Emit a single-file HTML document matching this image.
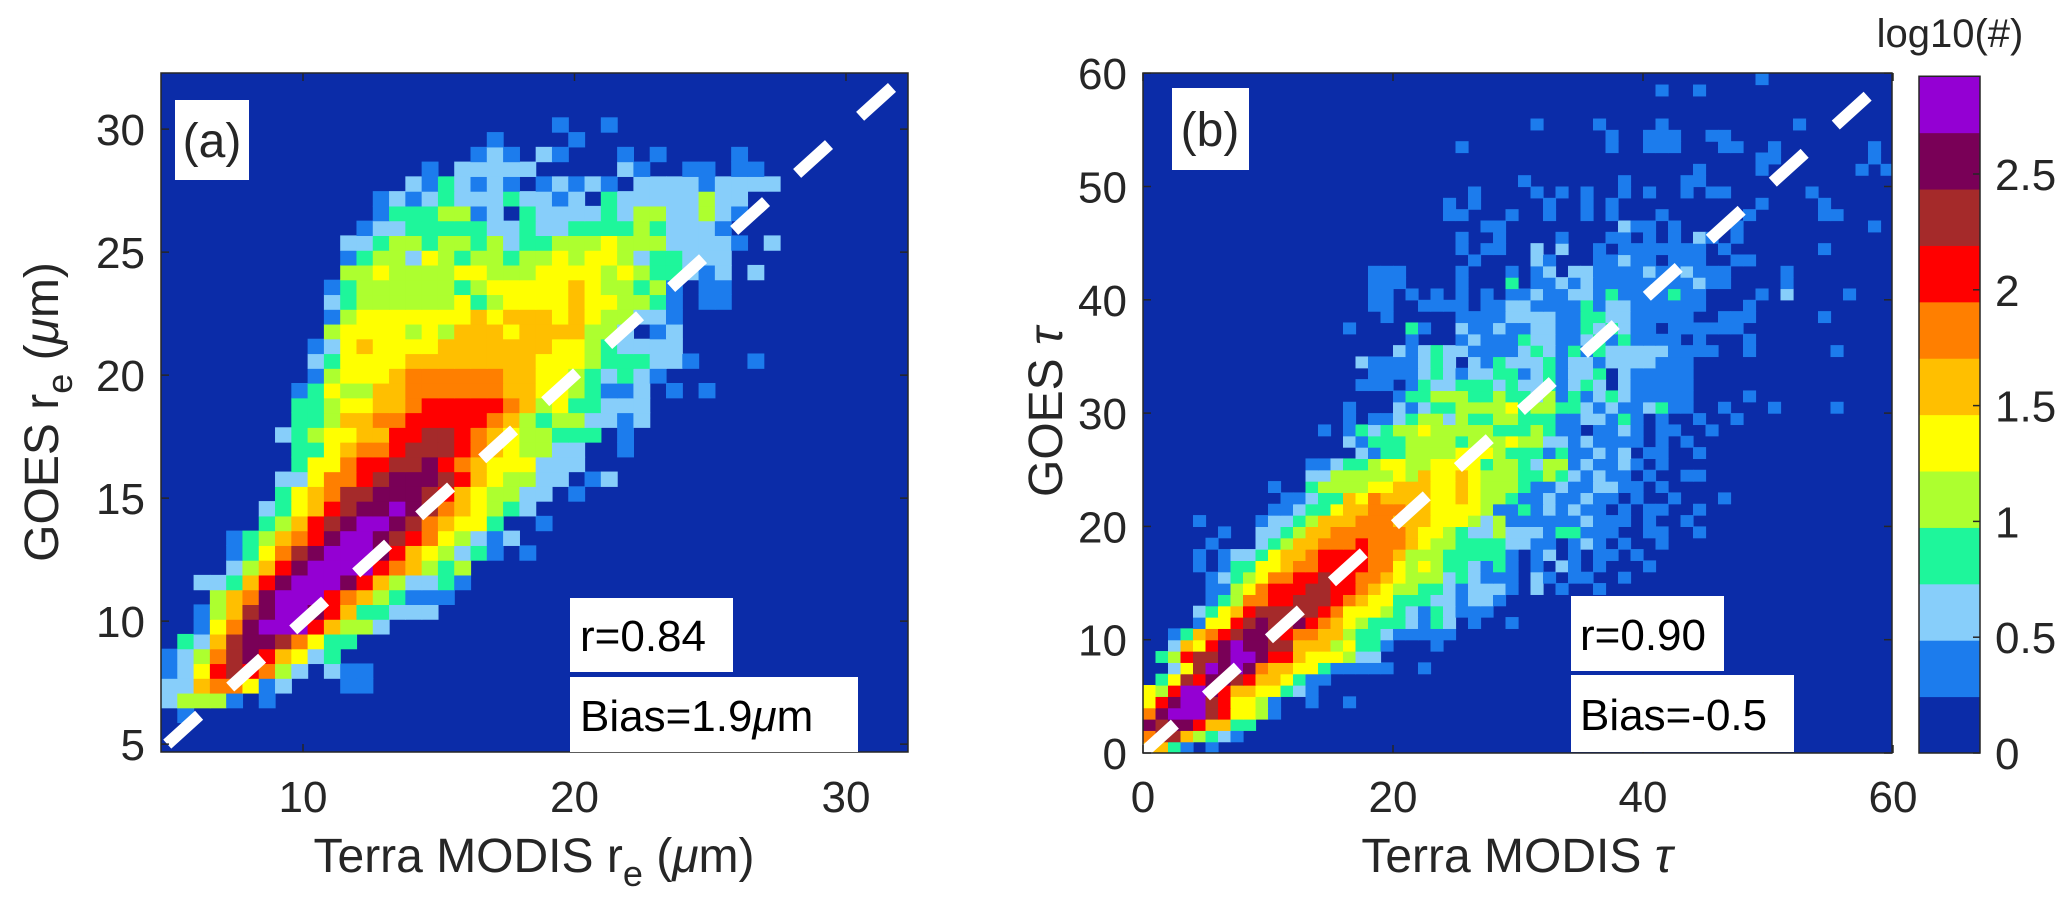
<!DOCTYPE html>
<html><head><meta charset="utf-8"><title>GOES vs MODIS</title>
<style>html,body{margin:0;padding:0;background:#fff}svg{display:block}text{font-family:"Liberation Sans",Arial,sans-serif;fill:#262626}</style>
</head><body>
<svg id="fig" width="2067" height="915" viewBox="0 0 2067 915" xmlns="http://www.w3.org/2000/svg">
<defs>
<clipPath id="clipA"><rect x="161" y="73" width="747" height="679"/></clipPath>
<clipPath id="clipB"><rect x="1143" y="73" width="749" height="680"/></clipPath>
</defs>
<g id="panelA"></g>
<g id="panelB"></g>
<g id="cbar"></g>
</svg>
<script>
const levelColors = ["#0b2ca8","#1c7ced","#87cefa","#1ef69b","#adff2f","#ffff00","#ffbf00","#ff7f00","#ff0000","#a52a2a","#790057","#9400d3"];
const cbStep = 0.2435;
const cbTicks = [0,0.5,1,1.5,2,2.5];
const cbTickLabels = ["0","0.5","1","1.5","2","2.5"];
const xTicksA = [10,20,30];
const yTicksA = [5,10,15,20,25,30];
const xTicksB = [0,20,40,60];
const yTicksB = [0,10,20,30,40,50,60];
const binA = 0.6, originA = [4.77,4.68];
const binB = 1, originB = [0,0];
// rows from bottom; segments "startCol:levels" (hex digit = colour level)
const rowsA = [
"","","1:1","0:2444101","0:2267751200011","0:1258987420211","0:12479a86523","1:3269aa97533",
"2:157abbb86442","2:1469abba8633222","3:467abbb87643111","2:22368abbba8642231","4:2468abbbb876434",
"4:13579abbba865423101","4:134678abba98754212","6:34689abba976553001","6:235689aaba9765432",
"7:356799aaa9865442201","7:2257789aaa98654422012","8:35578899a876555222","8:335677899987654422001",
"7:2345566889987654433301","8:3346677888887643442212","8:3345566788888764533222","8:13544667777776655431120101",
"9:1455567777776655432321","9:235555666666665554333221 36:1","9:12565555666666655432222",
"10:4555545466656666442012","10:1455555556566656544221","10:2344444453455556554431011",
"10:1344444434555556544341011","11:44544445544455554543321202","11:134425434434454554233222",
"11:223443443423344454442222102","12:12233333223223333432221","13:13334412032222324422421",
"13:12123222322120322222422","15:21321210121210222212222","16:1 18:22222 28:21 32:11 35:11",
"19:121 23:21 28:1 30:1 35:1","20:1 25:1","24:1 27:1"
];
const rowsB = [
"0:6631010","0:79964321","0:a9aa866330","0:7abbb985541","0:58abb985541 13:1 16:1","0:548bba86655321",
"1:3598aa98665311","2:259baba76655311111 22:1","1:34899abba886555422","2:2658abaa9966645331 23:1",
"2:136789aa987766433211111","4:15589a99a876543332132 26:1 29:1","4:235689999987555432132111",
"5:134778899987655333221221","5:114578889988765443321222102 33:1 36:1","5:1234577889887765444232111021 34:11 38:1",
"4:1013355677888877545433213101 33:21 36:1 40:1","4:10122356678888776444333331012 34:1 36:11 39:1","5:1 9:234667778777654433332211 34:121 38:1 41:1",
"6:1 9:22346677777765543224222133 35:11 37:1 40:11 44:1","4:1 9:12234666777666555424111111 35:2111 40:1 43:1","10:1123356677766555541131212 35:1101 40:11 44:1",
"11:112336576666556544311211 35:211 39:1 42:1 46:1","10:1 13:3444455666556544431121 35:12211 41:1","13:2244444546556544433432 35:1211 40:1 43:11",
"13:1123345544555534432441 35:21121 41:1","17:213344445554333131 35:1212 40:11 44:1","16:2133344443444544221 35:21111 41:1 43:1",
"14:1 16:1323445444443334311 36:1121 41:11 45:1","16:1011234424334433311 35:22131 41:1 44:1 47:1","16:1 20:212334444534433212112311 46:1 50:1 55:1",
"20:133444334332413123211111 48:1","17:111013223332322312320211111","18:11112321223312312230211111",
"17:211112320213222312212222111","20:21232211112321313222221111 48:1 55:1","21:1 25:121113221123131111 44:1 48:1",
"16:1 21:31 25:21121122113232110111111","19:1 25:1111222211332211111 46:111 54:1",
"18:11 22:11110112211113122111111 48:1","18:110101010101121122131111311 49:1 51:2 56:1",
"18:111 25:1 29:3 31:1121211111111211 51:1","18:111 25:1 29:1 31:1202211112112111 51:1",
"26:1 31:21 36:112110111 47:11","25:1 27:11 31:2 33:2 36:1 38:1111111 46:1 54:1",
"25:1 28:1 33:1 37:11 40:1 42:1 44:21 47:1","27:11 38:211 42:1 47:1 58:1",
"24:11 29:1 32:1 35:1 37:1 41:1 48:1 54:11","24:1 26:1 32:1 35:1 37:1 49:1 54:1",
"26:1 31:1 33:1 35:1 38:1 40:1 43:1 45:11 53:1","30:1 38:1 43:11","44:1 49:1 57:1 59:1",
"49:11 58:1","25:1 37:1 40:111 46:11 50:1 58:1","37:1 40:111 45:11","31:1 36:1 41:1 52:1","","","41:1 44:1","49:1"
];

const NS="http://www.w3.org/2000/svg";
function mk(tag, attrs, parent){const e=document.createElementNS(NS,tag);for(const k in attrs)e.setAttribute(k,attrs[k]);if(parent)parent.appendChild(e);return e;}
const xA=v=>161+(v-4.77)*27.15, yA=v=>752-(v-4.68)*24.6;
const xB=v=>1143+v*12.5, yB=v=>753-v*11.33;
const yC=v=>753-v*231.6;

function drawPanel(g, rows, bin, origin, xs, ys, clip, x0, x1, y0, y1, id){
  const bg=mk('rect',{x:x0,y:y1,width:x1-x0,height:y0-y1,fill:levelColors[0]},g);
  
  
  const cells=mk('g',{'clip-path':'url(#'+clip+')'},g);
  
  
  rows.forEach((row,r)=>{
    if(!row) return;
    row.split(' ').forEach(seg=>{
      const [s,lv]=seg.split(':'); const c0=parseInt(s,10);
      for(let i=0;i<lv.length;i++){
        const L=parseInt(lv[i],16); if(!L) continue;
        const vx=origin[0]+(c0+i)*bin, vy=origin[1]+r*bin;
        const px=xs(vx), px2=xs(vx+bin), py=ys(vy+bin), py2=ys(vy);
        const rc=mk('rect',{x:px.toFixed(2),y:py.toFixed(2),width:(px2-px+0.6).toFixed(2),height:(py2-py+0.6).toFixed(2),fill:levelColors[L]},cells);
        
        
      }
    });
  });
}
function drawAxes(g,x0,x1,y0,y1,xt,yt,xs,ys,id){
  const fr=mk('rect',{x:x0,y:y1,width:x1-x0,height:y0-y1,fill:'none',stroke:'#262626','stroke-width':1.5},g);
  
  
  xt.forEach(v=>{
    const px=xs(v);
    mk('line',{x1:px,x2:px,y1:y0,y2:y0-8,stroke:'#262626','stroke-width':1.5},g);
    mk('line',{x1:px,x2:px,y1:y1,y2:y1+8,stroke:'#262626','stroke-width':1.5},g);
    const t=mk('text',{x:px,y:812,'text-anchor':'middle','font-size':44},g);
    t.textContent=String(v);
    
    
  });
  yt.forEach(v=>{
    const py=ys(v);
    mk('line',{x1:x0,x2:x0+8,y1:py,y2:py,stroke:'#262626','stroke-width':1.5},g);
    mk('line',{x1:x1,x2:x1-8,y1:py,y2:py,stroke:'#262626','stroke-width':1.5},g);
    const t=mk('text',{x:x0-16,y:py+16,'text-anchor':'end','font-size':44},g);
    t.textContent=String(v);
    
    
  });
}
function dashLine(g,clip,xs,ys,a,b,id){
  const l=mk('line',{x1:xs(a),y1:ys(a),x2:xs(b),y2:ys(b),stroke:'#fff','stroke-width':12,'stroke-dasharray':'43 42','clip-path':'url(#'+clip+')'},g);
  
  
}
function box(g,x,y,w,h,name){const r=mk('rect',{x:x,y:y,width:w,height:h,fill:'#fff'},g);return r;}

const gA=document.getElementById('panelA');
drawPanel(gA,rowsA,binA,originA,xA,yA,'clipA',161,908,752,73,'panel-a');
dashLine(gA,'clipA',xA,yA,5,32.3,'panel-a');
drawAxes(gA,161,908,752,73,xTicksA,yTicksA,xA,yA,'panel-a');
box(gA,175,100,74,80,'panel-a-label-box');
box(gA,570,598,163,74,'panel-a-r-box');
box(gA,570,677,288,75,'panel-a-bias-box');

const gB=document.getElementById('panelB');
drawPanel(gB,rowsB,binB,originB,xB,yB,'clipB',1143,1892,753,73,'panel-b');
dashLine(gB,'clipB',xB,yB,0,60,'panel-b');
drawAxes(gB,1143,1892,753,73,xTicksB,yTicksB,xB,yB,'panel-b');
box(gB,1172,88,77,82,'panel-b-label-box');
box(gB,1571,596,153,75,'panel-b-r-box');
box(gB,1571,675,223,77,'panel-b-bias-box');

const gC=document.getElementById('cbar');
levelColors.forEach((c,i)=>{
  const r=mk('rect',{x:1919,y:yC((i+1)*cbStep).toFixed(2),width:61,height:(yC(i*cbStep)-yC((i+1)*cbStep)+0.5).toFixed(2),fill:c},gC);
  
  
});
const cf=mk('rect',{x:1919,y:yC(12*cbStep),width:61,height:yC(0)-yC(12*cbStep),fill:'none',stroke:'#262626','stroke-width':1.5},gC);


cbTicks.forEach((v,i)=>{
  mk('line',{x1:1980,x2:1973,y1:yC(v),y2:yC(v),stroke:'#262626','stroke-width':1.5},gC);
  const t=mk('text',{x:1995,y:yC(v)+16,'font-size':44},gC);
  t.textContent=cbTickLabels[i];
  
  
});
</script>
<div style="position:absolute;left:0;top:0;width:2067px;height:915px;pointer-events:none">
<svg width="2067" height="915" viewBox="0 0 2067 915" xmlns="http://www.w3.org/2000/svg">
<text x="212" y="157" text-anchor="middle" font-size="48">(a)</text>
<text x="1210" y="146" text-anchor="middle" font-size="48">(b)</text>
<text x="580" y="651" font-size="44" style="fill:#000">r=0.84</text>
<text x="580" y="731" font-size="44" style="fill:#000">Bias=1.9<tspan font-style="italic">μ</tspan>m</text>
<text x="1580" y="650" font-size="44" style="fill:#000">r=0.90</text>
<text x="1580" y="730" font-size="44" style="fill:#000">Bias=-0.5</text>
<text x="534" y="872" text-anchor="middle" font-size="48">Terra MODIS r<tspan dy="14" font-size="36">e</tspan><tspan dy="-14"> (</tspan><tspan font-style="italic">μ</tspan>m)</text>
<text x="1517" y="872" text-anchor="middle" font-size="48">Terra MODIS <tspan font-style="italic">τ</tspan></text>
<text transform="translate(58,412) rotate(-90)" text-anchor="middle" font-size="48">GOES r<tspan dy="14" font-size="36">e</tspan><tspan dy="-14"> (</tspan><tspan font-style="italic">μ</tspan>m)</text>
<text transform="translate(1062,412) rotate(-90)" text-anchor="middle" font-size="48">GOES <tspan font-style="italic">τ</tspan></text>
<text x="1950" y="47" text-anchor="middle" font-size="40">log10(#)</text>
</svg>
</div>
</body></html>
